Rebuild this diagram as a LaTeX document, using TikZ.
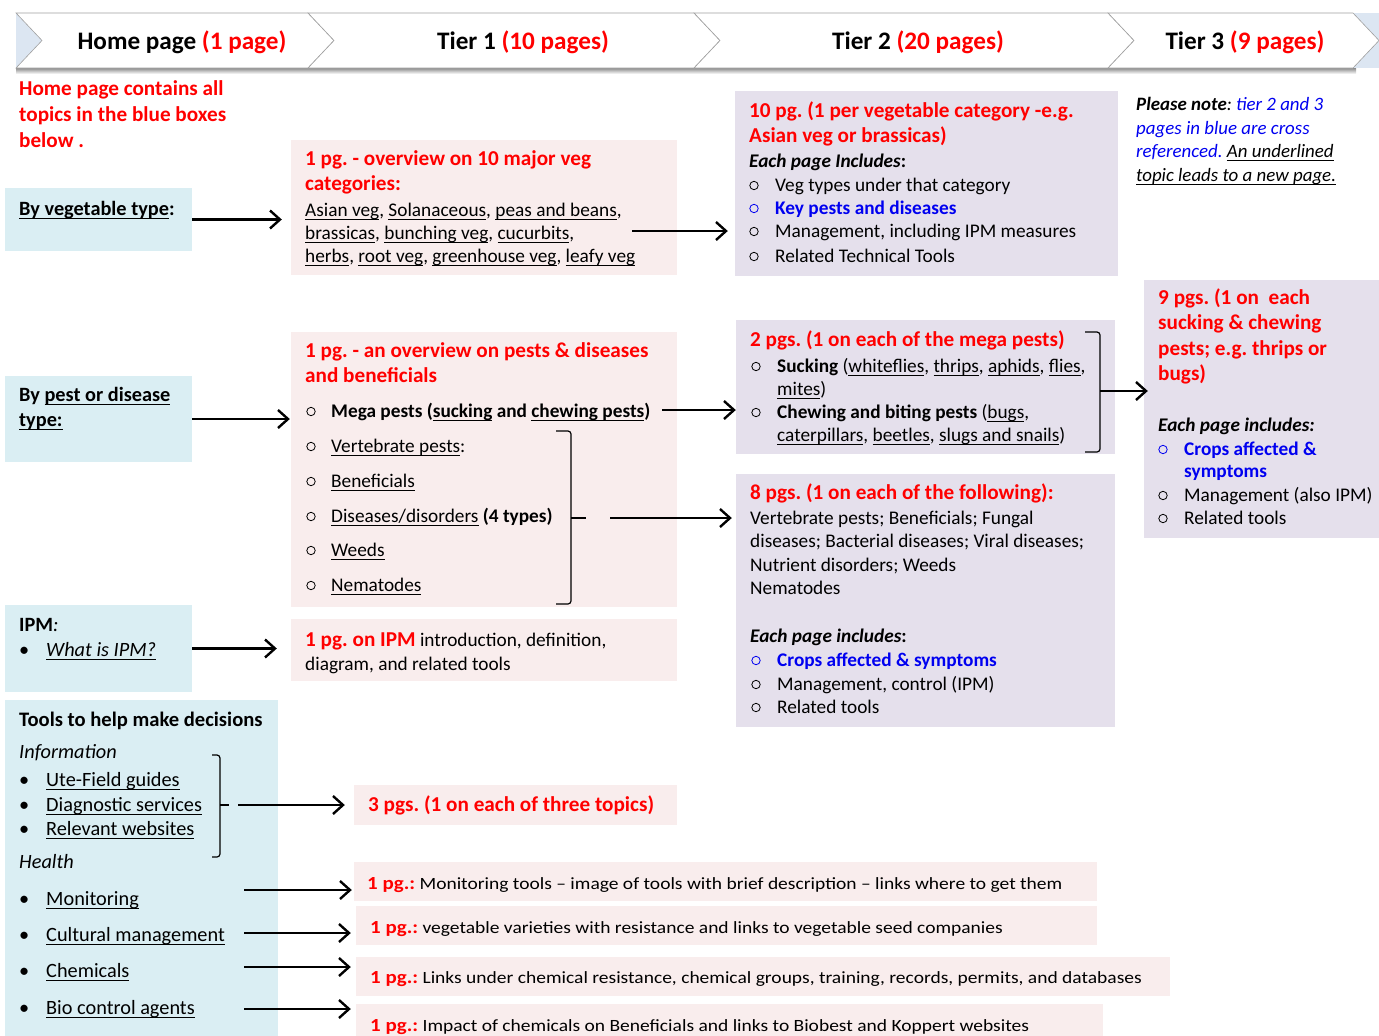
\documentclass[tikz,border=0pt]{standalone}
\usepackage{fontspec}
\usepackage{graphicx}
\setmainfont{Carlito}
\AtBeginDocument{\frenchspacing}
\usetikzlibrary{arrows.meta,fit}
\definecolor{redc}{HTML}{FF0000}
\definecolor{blueT}{HTML}{0000F0}
\definecolor{blueb}{HTML}{DAEEF3}
\definecolor{pinkb}{HTML}{F9EDED}
\definecolor{lavb}{HTML}{E5E0EC}
\definecolor{hdrb}{HTML}{DCE6F2}
\newsavebox\myulbox
\newcommand\ul[1]{\leavevmode\sbox\myulbox{#1}\rlap{\rule[-3.4pt]{\wd\myulbox}{0.9pt}}\usebox\myulbox}
\newcounter{tn}
\newcommand\tx[4][]{\stepcounter{tn}\node[txt,#1] (tx\arabic{tn}) at (#2,#3) {#4};}
\newcommand\hx[4][]{\stepcounter{tn}\node[hd,#1] (tx\arabic{tn}) at (#2,#3) {#4};}
\newcommand\ob[3][black]{\draw[#1, line width=0.8pt] (#2,#3-5.5) circle[radius=4.2pt];}
\newcommand\rowtxt[1]{\scalebox{1}[0.88]{\textcolor{redc}{\textbf{\fontsize{21}{23}\selectfont 1 pg.:}} {\fontsize{19.5}{23}\selectfont #1}}}
\begin{document}
\begin{tikzpicture}[x=1pt,y=-1pt,
  txt/.style={anchor=base west, inner sep=0pt, font=\fontsize{19.3}{23}\selectfont},
  hd/.style={anchor=base west, inner sep=0pt, font=\bfseries\fontsize{21.2}{25}\selectfont, text=redc},
  hdr/.style={anchor=base, inner sep=0pt, font=\bfseries\fontsize{25.2}{29}\selectfont},
  lft/.style={font=\fontsize{20.3}{24}\selectfont},
  nt/.style={font=\itshape\fontsize{18.9}{23}\selectfont},
  bxb/.style={fill=blueb, inner sep=0pt, draw=none},
  bxp/.style={fill=pinkb, inner sep=0pt, draw=none},
  bxl/.style={fill=lavb, inner sep=0pt, draw=none},
  arr/.style={line width=2.4pt, -{Straight Barb[length=10pt,width=18pt]}},
  brk/.style={line width=1.2pt, rounded corners=3pt},
  chev/.style={fill=white, draw=gray!75, line width=0.6pt},
]
\useasboundingbox (0,0) rectangle (1379,1036);
% header band
\fill[hdrb] (16,13) rectangle (1379,68);
\shade[top color=black!45, bottom color=white] (16,68) rectangle (1356,74);
\foreach \a/\b in {16/308, 308/694, 694/1108, 1108/1353}
  \draw[chev] (\a,13) -- (\b,13) -- (\b+26,40.5) -- (\b,68) -- (\a,68) -- (\a+26,40.5) -- cycle;
\node[hdr] (h0) at (182,49) {Home page \textcolor{redc}{(1 page)}};
\node[hdr] (h1) at (523,49) {Tier 1 \textcolor{redc}{(10 pages)}};
\node[hdr] (h2) at (918,49) {Tier 2 \textcolor{redc}{(20 pages)}};
\node[hdr] (h3) at (1245,49) {Tier 3 \textcolor{redc}{(9 pages)}};

% boxes
\node[bxb, fit={(5,188)(192,251)}] (bv) {};
\node[bxb, fit={(5,376)(192,462)}] (bp) {};
\node[bxb, fit={(5,605)(192,692)}] (bi) {};
\node[bxb, fit={(5,700)(278,1036)}] (bt) {};
\node[bxp, fit={(291,140)(677,275)}] (t1a) {};
\node[bxp, fit={(291,332)(677,607)}] (t1b) {};
\node[bxp, fit={(291,619)(677,681)}] (t1c) {};
\node[bxp, fit={(354,785)(677,825)}] (t1d) {};
\node[bxp, fit={(354,862)(1097,901)}] (t1e) {};
\node[bxp, fit={(356,906)(1097,945)}] (t1f) {};
\node[bxp, fit={(356,957)(1170,996)}] (t1g) {};
\node[bxp, fit={(356,1004)(1103,1036)}] (t1h) {};
\node[bxl, fit={(735,91)(1118,276)}] (t2a) {};
\node[bxl, fit={(736,320)(1115,454)}] (t2b) {};
\node[bxl, fit={(736,474)(1115,727)}] (t2c) {};
\node[bxl, fit={(1144,280)(1379,538)}] (t3) {};

% left column
\hx{19}{95}{Home page contains all}
\hx{19}{121}{topics in the blue boxes}
\hx{19}{147}{below .}
\tx[lft]{19}{215}{\textbf{\ul{By vegetable type}:}}
\tx[lft]{19}{401}{\textbf{By \ul{pest or disease}}}
\tx[lft]{19}{426}{\textbf{\ul{type:}}}
\tx[lft]{19}{631}{\textbf{IPM}\textit{:}}
\tx[lft]{19}{656}{•}
\tx[lft]{46}{656}{\textit{\ul{What is IPM?}}}
\tx[font=\bfseries\fontsize{20.6}{24}\selectfont]{19}{726}{Tools to help make decisions}
\tx[lft]{19}{758}{\textit{Information}}
\tx[lft]{19}{786}{•}\tx[lft]{46}{786}{\ul{Ute-Field guides}}
\tx[lft]{19}{811}{•}\tx[lft]{46}{811}{\ul{Diagnostic services}}
\tx[lft]{19}{835}{•}\tx[lft]{46}{835}{\ul{Relevant websites}}
\tx[lft]{19}{868}{\textit{Health}}
\tx[lft]{19}{905}{•}\tx[lft]{46}{905}{\ul{Monitoring}}
\tx[lft]{19}{941}{•}\tx[lft]{46}{941}{\ul{Cultural management}}
\tx[lft]{19}{977}{•}\tx[lft]{46}{977}{\ul{Chemicals}}
\tx[lft]{19}{1014}{•}\tx[lft]{46}{1014}{\ul{Bio control agents}}

% tier 1
\hx{305}{165}{1 pg. - overview on 10 major veg}
\hx{305}{190}{categories:}
\tx{305}{216}{\ul{Asian veg}, \ul{Solanaceous}, \ul{peas and beans},}
\tx{305}{239}{\ul{brassicas}, \ul{bunching veg}, \ul{cucurbits},}
\tx{305}{262}{\ul{herbs}, \ul{root veg}, \ul{greenhouse veg}, \ul{leafy veg}}

\hx{305}{357}{1 pg. - an overview on pests \& diseases}
\hx{305}{382}{and beneficials}
\ob{311}{417}\tx{331}{417}{\textbf{Mega pests (\ul{sucking} and \ul{chewing pests})}}
\ob{311}{452}\tx{331}{452}{\ul{Vertebrate pests}:}
\ob{311}{487}\tx{331}{487}{\ul{Beneficials}}
\ob{311}{522}\tx{331}{522}{\ul{Diseases/disorders} \textbf{(4 types)}}
\ob{311}{556}\tx{331}{556}{\ul{Weeds}}
\ob{311}{591}\tx{331}{591}{\ul{Nematodes}}

\tx{305}{646}{\textcolor{redc}{\textbf{\fontsize{21.2}{25}\selectfont 1 pg. on IPM}} introduction, definition,}
\tx{305}{670}{diagram, and related tools}
\hx{368}{811}{3 pgs. (1 on each of three topics)}
\tx{367}{889}{\rowtxt{Monitoring tools – image of tools with brief description – links where to get them}}
\tx{370}{933}{\rowtxt{vegetable varieties with resistance and links to vegetable seed companies}}
\tx{370}{983}{\rowtxt{Links under chemical resistance, chemical groups, training, records, permits, and databases}}
\tx{370}{1031}{\rowtxt{Impact of chemicals on Beneficials and links to Biobest and Koppert websites}}

% tier 2
\hx{749}{117}{10 pg. (1 per vegetable category -e.g.}
\hx{749}{142}{Asian veg or brassicas)}
\tx{749}{167}{\textbf{\textit{Each page Includes}:}}
\ob{754}{191}\tx{775}{191}{Veg types under that category}
\ob[blueT]{754}{214}\tx[text=blueT]{775}{214}{\textbf{Key pests and diseases}}
\ob{754}{237}\tx{775}{237}{Management, including IPM measures}
\ob{754}{262}\tx{775}{262}{Related Technical Tools}

\hx{750}{346}{2 pgs. (1 on each of the mega pests)}
\ob{756}{372}\tx{777}{372}{\textbf{Sucking} (\ul{whiteflies}, \ul{thrips}, \ul{aphids}, \ul{flies},}
\tx{777}{395}{\ul{mites})}
\ob{756}{418}\tx{777}{418}{\textbf{Chewing and biting pests} (\ul{bugs},}
\tx{777}{441}{\ul{caterpillars}, \ul{beetles}, \ul{slugs and snails})}

\hx{750}{499}{8 pgs. (1 on each of the following):}
\tx{750}{524}{Vertebrate pests; Beneficials; Fungal}
\tx{750}{547}{diseases; Bacterial diseases; Viral diseases;}
\tx{750}{571}{Nutrient disorders; Weeds}
\tx{750}{594}{Nematodes}
\tx{750}{642}{\textbf{\textit{Each page includes}:}}
\ob[blueT]{756}{666}\tx[text=blueT]{777}{666}{\textbf{Crops affected \& symptoms}}
\ob{756}{690}\tx{777}{690}{Management, control (IPM)}
\ob{756}{713}\tx{777}{713}{Related tools}

% tier 3
\tx[nt]{1136}{110}{\textbf{Please note}: \textcolor{blueT}{tier 2 and 3}}
\tx[nt, text=blueT]{1136}{134}{pages in blue are cross}
\tx[nt]{1136}{157}{\textcolor{blueT}{referenced.} \ul{An underlined}}
\tx[nt]{1136}{181}{\ul{topic leads to a new page.}}

\hx{1158}{304}{9 pgs. (1 on~ each}
\hx{1158}{329}{sucking \& chewing}
\hx{1158}{355}{pests; e.g. thrips or}
\hx{1158}{380}{bugs)}
\tx{1158}{431}{\textbf{\textit{Each page includes:}}}
\ob[blueT]{1163}{455}\tx[text=blueT]{1184}{455}{\textbf{Crops affected \&}}
\tx[text=blueT]{1184}{477}{\textbf{symptoms}}
\ob{1163}{501}\tx{1184}{501}{Management (also IPM)}
\ob{1163}{524}\tx{1184}{524}{Related tools}

% brackets
\coordinate (b1) at (586,518);
\coordinate (b2) at (1100,391);
\coordinate (ib) at (229,805);
\draw[brk] (556,431) -- (571,431) -- (571,604) -- (556,604);
\draw[brk] (571,518) -- (b1);
\draw[brk] (1085,332) -- (1100,332) -- (1100,452) -- (1085,452);
\draw[brk] (212,755) -- (220,755) -- (220,857) -- (212,857);
\draw[brk] (220,805) -- (ib);

% arrows
\coordinate (c1) at (632,231);
\coordinate (mp) at (662,410);
\coordinate (hm) at (244,890);
\coordinate (hc) at (244,933);
\coordinate (hh) at (244,967);
\coordinate (hb) at (244,1009);
\draw[arr, shorten >=9pt] (bv.east) -- (bv.east -| t1a.west);
\draw[arr, shorten >=1pt] (bp.east) -- (bp.east -| t1b.west);
\draw[arr, shorten >=14pt] (bi.east) -- (bi.east -| t1c.west);
\draw[arr, shorten <=9pt, shorten >=9pt] (ib) -- (ib -| t1d.west);
\draw[arr, shorten >=2pt] (hm) -- (hm -| t1e.west);
\draw[arr, shorten >=5pt] (hc) -- (hc -| t1f.west);
\draw[arr, shorten >=5pt] (hh) -- (hh -| t1g.west);
\draw[arr, shorten >=5pt] (hb) -- (hb -| t1h.west);
\draw[arr, shorten >=7pt] (c1) -- (c1 -| t2a.west);
\draw[arr] (mp) -- (mp -| t2b.west);
\draw[arr, shorten <=24pt, shorten >=4pt] (b1) -- (b1 -| t2c.west);
\draw[arr, shorten >=-4pt] (b2) -- (b2 -| t3.west);
\end{tikzpicture}
\end{document}
